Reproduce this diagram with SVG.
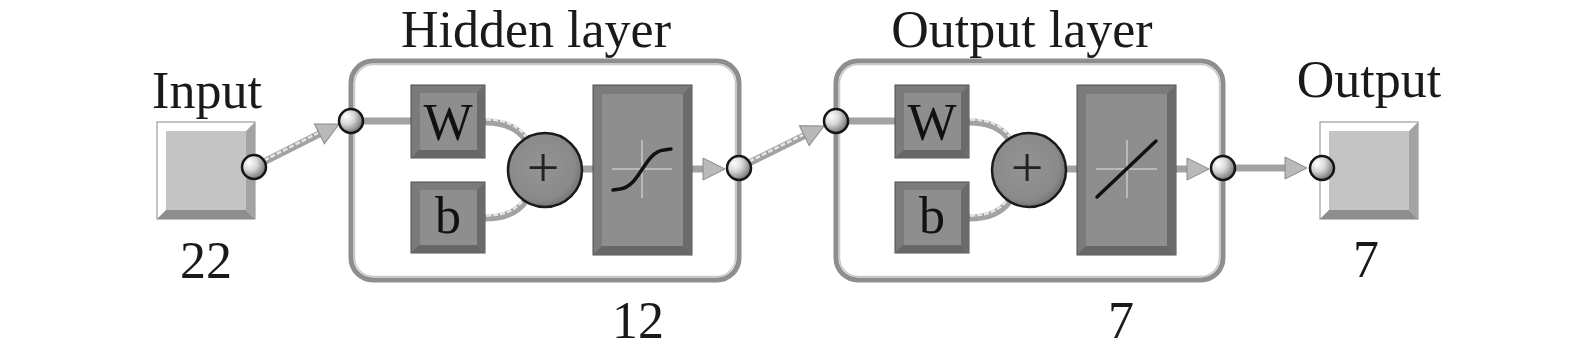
<svg xmlns="http://www.w3.org/2000/svg" width="1575" height="360" viewBox="0 0 1575 360">
<style>
.lbl{font-family:"Liberation Serif","Times New Roman",serif;font-size:52px;fill:#1a1a1a;text-anchor:middle}
.sym{font-family:"Liberation Serif","Times New Roman",serif;font-size:52px;fill:#111;text-anchor:middle}
.plus{font-family:"Liberation Serif","Times New Roman",serif;font-size:58px;fill:#222;text-anchor:middle}
.layer{fill:none;stroke:#8e8e8e;stroke-width:5}
.layer-in{fill:none;stroke:#c9c9c9;stroke-width:1.5}
.tube{fill:none;stroke:#a2a2a2;stroke-width:7}
.tube-hi{fill:none;stroke:#e6e6e6;stroke-width:2.5;stroke-dasharray:5 2}
.io-edge{fill:#ffffff;stroke:#8a8a8a;stroke-width:1}
.io-face{fill:#c4c4c4}
.io-r{fill:#a3a3a3}
.io-b{fill:#8e8e8e}
.dk-edge{fill:#7b7b7b;stroke:#4f4f4f;stroke-width:1}
.dk-face{fill:#8e8e8e}
.dk-r{fill:#6b6b6b}
.dk-b{fill:#676767}
.ball{fill:url(#ballg);stroke:#151515;stroke-width:2.5}
.sum{fill:url(#sumg);stroke:#1a1a1a;stroke-width:2.5}
.cross{stroke:#c8c8c8;stroke-width:1.5;fill:none}
.fn{stroke:#111;stroke-width:3.5;fill:none;stroke-linecap:round}
</style>
<defs>
<radialGradient id="ballg" cx="0.35" cy="0.35" r="0.7" fx="0.3" fy="0.3">
<stop offset="0" stop-color="#ffffff"/>
<stop offset="0.45" stop-color="#d8d8d8"/>
<stop offset="1" stop-color="#6e6e6e"/>
</radialGradient>
<radialGradient id="sumg" cx="0.45" cy="0.45" r="0.6">
<stop offset="0" stop-color="#949494"/>
<stop offset="0.75" stop-color="#8a8a8a"/>
<stop offset="1" stop-color="#6c6c6c"/>
</radialGradient>
<marker id="arr" markerUnits="userSpaceOnUse" viewBox="-1 -12 25 24" refX="0" refY="0" markerWidth="25" markerHeight="24" orient="auto">
<path d="M0,-11 L22,0 L0,11 Z" fill="#b9b9b9" stroke="#8a8a8a" stroke-width="1"/>
</marker>
</defs>

<g id="connectors">
<path class="tube" d="M254,167 L319.4,133.9" marker-end="url(#arr)"/>
<path class="tube-hi" d="M258,163.5 L318,133"/>
<path class="tube" d="M351,121 L411,121"/>
<path class="tube" d="M485,122 C505,122 518,128 526,140"/>
<path class="tube-hi" d="M486,119.5 C505,119.5 518,125.5 526,137"/>
<path class="tube" d="M485,218 C505,218 518,212 526,200"/>
<path class="tube-hi" d="M486,215.5 C505,215.5 517,209.5 524,198.5"/>
<path class="tube" d="M582,169 L593,169"/>
<path class="tube" d="M692,169 L703,169" marker-end="url(#arr)"/>
<path class="tube" d="M739,168 L804.3,135.7" marker-end="url(#arr)"/>
<path class="tube-hi" d="M743,164.5 L803,134.8"/>
<path class="tube" d="M836,121 L895,121"/>
<path class="tube" d="M969,122 C989,122 1002,128 1010,140"/>
<path class="tube-hi" d="M970,119.5 C989,119.5 1002,125.5 1010,137"/>
<path class="tube" d="M969,218 C989,218 1002,212 1010,200"/>
<path class="tube-hi" d="M970,215.5 C989,215.5 1001,209.5 1008,198.5"/>
<path class="tube" d="M1066,169 L1077,169"/>
<path class="tube" d="M1176,169 L1187,169" marker-end="url(#arr)"/>
<path class="tube" d="M1223,168 L1285,168" marker-end="url(#arr)"/>
</g>

<g id="input">
<text class="lbl" x="207" y="108">Input</text>
<rect class="io-edge" x="157" y="122" width="98" height="97"/>
<polygon class="io-r" points="255,122 246,131 246,210 255,219"/>
<polygon class="io-b" points="157,219 166,210 246,210 255,219"/>
<rect class="io-face" x="166" y="131" width="80" height="79"/>
<text class="lbl" x="206" y="278">22</text>
<circle class="ball" cx="254" cy="167" r="12"/>
</g>

<g id="hidden-layer">
<text class="lbl" x="536" y="47">Hidden layer</text>
<rect class="layer" x="351" y="61" width="388" height="219" rx="22"/>
<rect class="layer-in" x="354.5" y="64.5" width="381" height="212" rx="19"/>
<text class="lbl" x="638" y="338">12</text>
<circle class="ball" cx="351" cy="121" r="12"/>
<circle class="ball" cx="739" cy="168" r="12"/>
</g>

<g id="hidden-W">
<rect class="dk-edge" x="411" y="85" width="74" height="73"/>
<polygon class="dk-r" points="485,85 477,93 477,150 485,158"/>
<polygon class="dk-b" points="411,158 419,150 477,150 485,158"/>
<rect class="dk-face" x="420" y="93" width="57" height="57"/>
<text class="sym" x="448" y="140">W</text>
</g>

<g id="hidden-b">
<rect class="dk-edge" x="411" y="182" width="74" height="71"/>
<polygon class="dk-r" points="485,182 477,190 477,245 485,253"/>
<polygon class="dk-b" points="411,253 419,245 477,245 485,253"/>
<rect class="dk-face" x="420" y="190" width="57" height="55"/>
<text class="sym" x="448" y="233">b</text>
</g>

<g id="hidden-sum">
<circle class="sum" cx="545" cy="170" r="37"/>
<text class="plus" x="543" y="187">+</text>
</g>

<g id="hidden-tansig">
<rect class="dk-edge" x="593" y="85" width="99" height="170"/>
<polygon class="dk-r" points="692,85 683,94 683,246 692,255"/>
<polygon class="dk-b" points="593,255 602,246 683,246 692,255"/>
<rect class="dk-face" x="602" y="94" width="81" height="152"/>
<path class="cross" d="M612,169 L672,169 M642,140 L642,198"/>
<path class="fn" d="M613,190 L620,189 C640,187 644,152 664,150 L671,149"/>
</g>

<g id="output-layer">
<text class="lbl" x="1022" y="47">Output layer</text>
<rect class="layer" x="836" y="61" width="387" height="219" rx="22"/>
<rect class="layer-in" x="839.5" y="64.5" width="380" height="212" rx="19"/>
<text class="lbl" x="1121" y="338">7</text>
<circle class="ball" cx="836" cy="121" r="12"/>
<circle class="ball" cx="1223" cy="168" r="12"/>
</g>

<g id="output-W">
<rect class="dk-edge" x="895" y="85" width="74" height="73"/>
<polygon class="dk-r" points="969,85 961,93 961,150 969,158"/>
<polygon class="dk-b" points="895,158 903,150 961,150 969,158"/>
<rect class="dk-face" x="904" y="93" width="57" height="57"/>
<text class="sym" x="932" y="140">W</text>
</g>

<g id="output-b">
<rect class="dk-edge" x="895" y="182" width="74" height="71"/>
<polygon class="dk-r" points="969,182 961,190 961,245 969,253"/>
<polygon class="dk-b" points="895,253 903,245 961,245 969,253"/>
<rect class="dk-face" x="904" y="190" width="57" height="55"/>
<text class="sym" x="932" y="233">b</text>
</g>

<g id="output-sum">
<circle class="sum" cx="1029" cy="170" r="37"/>
<text class="plus" x="1027" y="187">+</text>
</g>

<g id="output-purelin">
<rect class="dk-edge" x="1077" y="85" width="99" height="170"/>
<polygon class="dk-r" points="1176,85 1167,94 1167,246 1176,255"/>
<polygon class="dk-b" points="1077,255 1086,246 1167,246 1176,255"/>
<rect class="dk-face" x="1086" y="94" width="81" height="152"/>
<path class="cross" d="M1096,169 L1157,169 M1127,140 L1127,198"/>
<path class="fn" d="M1097,197 L1156,141"/>
</g>

<g id="output">
<text class="lbl" x="1369" y="97">Output</text>
<rect class="io-edge" x="1320" y="122" width="98" height="97"/>
<polygon class="io-r" points="1418,122 1409,131 1409,210 1418,219"/>
<polygon class="io-b" points="1320,219 1329,210 1409,210 1418,219"/>
<rect class="io-face" x="1329" y="131" width="80" height="79"/>
<text class="lbl" x="1366" y="277">7</text>
<circle class="ball" cx="1322" cy="168" r="12"/>
</g>
</svg>
